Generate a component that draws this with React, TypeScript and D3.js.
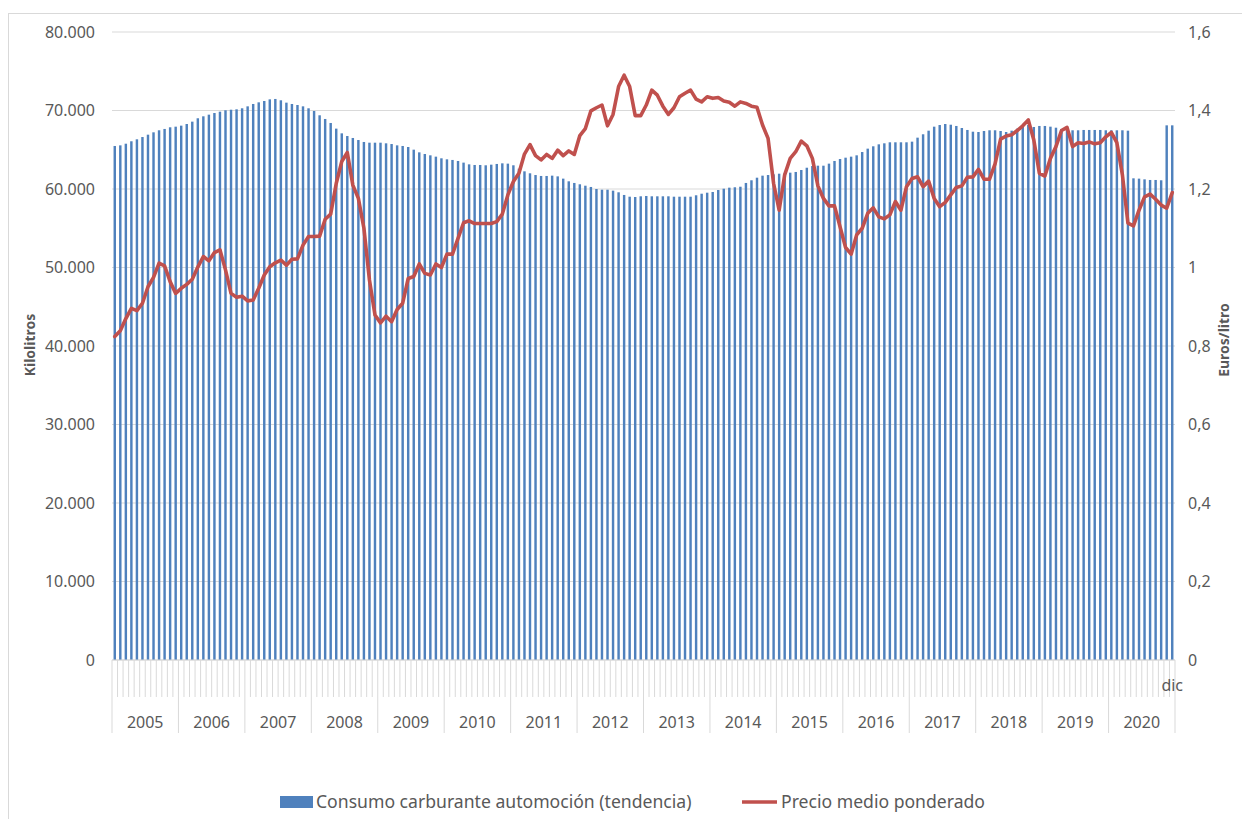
import * as d3 from "d3"

// Monthly series, Jan 2005 .. Dec 2020
const years = ["2005", "2006", "2007", "2008", "2009", "2010", "2011", "2012", "2013", "2014", "2015", "2016", "2017", "2018", "2019", "2020"]
const monthNames = ["ene", "feb", "mar", "abr", "may", "jun", "jul", "ago", "sep", "oct", "nov", "dic"]

// Consumo carburante automoción (tendencia), kilolitros
const consumo2005 = [65480, 65560, 65770, 66080, 66330, 66620, 66920, 67220, 67480, 67650, 67860, 67940]
const consumo2006 = [68070, 68280, 68580, 69010, 69260, 69470, 69680, 69850, 70030, 70100, 70150, 70280]
const consumo2007 = [70530, 70830, 71040, 71210, 71420, 71470, 71300, 71000, 70830, 70700, 70530, 70280]
const consumo2008 = [69940, 69390, 68920, 68410, 67690, 67090, 66750, 66500, 66240, 65990, 65900, 65900]
const consumo2009 = [65900, 65820, 65730, 65560, 65480, 65350, 65010, 64670, 64460, 64290, 64120, 63910]
const consumo2010 = [63780, 63700, 63570, 63360, 63140, 63060, 63060, 63020, 63100, 63190, 63270, 63230]
const consumo2011 = [63020, 62590, 62250, 62000, 61780, 61660, 61660, 61700, 61610, 61320, 60980, 60770]
const consumo2012 = [60600, 60420, 60260, 60000, 59910, 59910, 59790, 59580, 59240, 59020, 58980, 59070]
const consumo2013 = [59110, 59070, 59070, 59070, 59070, 59020, 59020, 59020, 59020, 59200, 59400, 59530]
const consumo2014 = [59620, 59870, 60040, 60170, 60220, 60290, 60770, 61110, 61440, 61700, 61780, 61870]
const consumo2015 = [61950, 62000, 62080, 62170, 62420, 62710, 62930, 62970, 62970, 63230, 63570, 63820]
const consumo2016 = [63990, 64120, 64290, 64710, 65140, 65440, 65690, 65820, 65950, 65950, 65950, 65950]
const consumo2017 = [66030, 66540, 66970, 67430, 67940, 68150, 68280, 68190, 68030, 67770, 67520, 67300]
const consumo2018 = [67260, 67390, 67480, 67480, 67390, 67260, 67430, 67690, 67940, 68150, 67900, 68030]
const consumo2019 = [68030, 67940, 67810, 67650, 67480, 67480, 67480, 67520, 67520, 67520, 67520, 67480]
const consumo2020 = [67480, 67480, 67480, 67430, 61360, 61320, 61230, 61150, 61150, 61110, 68110, 68110]

// Precio medio ponderado, euros/litro
const precio2005 = [0.824, 0.839, 0.87, 0.896, 0.89, 0.909, 0.951, 0.975, 1.011, 1.004, 0.964, 0.934]
const precio2006 = [0.947, 0.957, 0.97, 1.001, 1.028, 1.017, 1.038, 1.045, 0.994, 0.934, 0.924, 0.927]
const precio2007 = [0.915, 0.917, 0.947, 0.981, 1.002, 1.012, 1.019, 1.006, 1.021, 1.022, 1.057, 1.079]
const precio2008 = [1.079, 1.08, 1.123, 1.136, 1.214, 1.27, 1.293, 1.21, 1.176, 1.1, 0.968, 0.879]
const precio2009 = [0.859, 0.876, 0.862, 0.893, 0.909, 0.972, 0.977, 1.009, 0.985, 0.981, 1.009, 1.0]
const precio2010 = [1.034, 1.034, 1.074, 1.114, 1.119, 1.112, 1.112, 1.112, 1.112, 1.117, 1.136, 1.185]
const precio2011 = [1.219, 1.24, 1.289, 1.313, 1.285, 1.274, 1.288, 1.278, 1.299, 1.285, 1.297, 1.288]
const precio2012 = [1.336, 1.354, 1.399, 1.407, 1.414, 1.361, 1.39, 1.461, 1.49, 1.461, 1.387, 1.387]
const precio2013 = [1.414, 1.452, 1.439, 1.411, 1.39, 1.407, 1.435, 1.444, 1.452, 1.429, 1.422, 1.435]
const precio2014 = [1.431, 1.433, 1.424, 1.421, 1.411, 1.422, 1.418, 1.411, 1.408, 1.363, 1.329, 1.214]
const precio2015 = [1.146, 1.236, 1.278, 1.295, 1.322, 1.31, 1.278, 1.208, 1.176, 1.157, 1.157, 1.104]
const precio2016 = [1.051, 1.034, 1.083, 1.1, 1.138, 1.152, 1.129, 1.124, 1.134, 1.168, 1.146, 1.206]
const precio2017 = [1.227, 1.231, 1.206, 1.22, 1.176, 1.155, 1.166, 1.185, 1.204, 1.208, 1.23, 1.231]
const precio2018 = [1.25, 1.225, 1.225, 1.264, 1.327, 1.335, 1.338, 1.349, 1.361, 1.376, 1.325, 1.24]
const precio2019 = [1.233, 1.278, 1.308, 1.349, 1.357, 1.308, 1.318, 1.316, 1.32, 1.315, 1.318, 1.333]
const precio2020 = [1.344, 1.318, 1.236, 1.113, 1.106, 1.146, 1.18, 1.187, 1.174, 1.159, 1.151, 1.191]

const leftTicks = [0, 10000, 20000, 30000, 40000, 50000, 60000, 70000, 80000]
const rightTicks = [0, 0.2, 0.4, 0.6, 0.8, 1, 1.2, 1.4, 1.6]

const consumo = [consumo2005, consumo2006, consumo2007, consumo2008, consumo2009, consumo2010, consumo2011, consumo2012,
  consumo2013, consumo2014, consumo2015, consumo2016, consumo2017, consumo2018, consumo2019, consumo2020].flat()
const precio = [precio2005, precio2006, precio2007, precio2008, precio2009, precio2010, precio2011, precio2012,
  precio2013, precio2014, precio2015, precio2016, precio2017, precio2018, precio2019, precio2020].flat()
const months = years.flatMap((y) => monthNames.map((m) => `${m} ${y}`))

const FONT = "'Noto Sans', sans-serif"
const TEXT = "#595959"
const GRID = "#d9d9d9"
const BLUE = "#4f81bd"
const RED = "#c0504d"

export default function App() {
  const width = 1242
  const height = 819
  const left = 112
  const right = 1175
  const top = 32
  const bottom = 660

  const x = d3.scaleBand<string>().domain(months).range([left, right]).paddingInner(0.56).paddingOuter(0.28)
  const step = x.step()
  const yL = d3.scaleLinear().domain([0, 80000]).range([bottom, top])
  const yR = d3.scaleLinear().domain([0, 1.6]).range([bottom, top])

  const fmtL = (v: number) => d3.format(",")(v).replace(/,/g, ".")
  const fmtR = (v: number) => String(+v.toFixed(1)).replace(".", ",")

  const line = d3
    .line<number>()
    .x((_, i) => (x(months[i]) as number) + x.bandwidth() / 2)
    .y((d) => yR(d))

  const boundaries = d3.range(months.length + 1)

  return (
    <svg width={width} height={height} style={{ position: "fixed", left: 0, top: 0, background: "#fff" }} fontFamily={FONT}>
      <rect x={8.5} y={13.5} width={1260} height={830} fill="#fff" stroke={GRID} />

      {/* gridlines */}
      {leftTicks.map((t) => (
        <line key={t} x1={left} x2={right} y1={yL(t)} y2={yL(t)} stroke={GRID} strokeWidth={1} />
      ))}

      {/* bars */}
      {consumo.map((v, i) => (
        <rect key={i} x={x(months[i])} y={yL(v)} width={x.bandwidth()} height={bottom - yL(v)} fill={BLUE} />
      ))}

      {/* category axis ticks */}
      {boundaries.map((i) => {
        const bx = left + i * step
        const major = i % 12 === 0
        return <line key={i} x1={bx} x2={bx} y1={bottom} y2={major ? 733 : 697} stroke={GRID} strokeWidth={1} />
      })}
      <line x1={left} x2={right} y1={bottom} y2={bottom} stroke={GRID} />

      {/* price line */}
      <path d={line(precio) || ""} fill="none" stroke={RED} strokeWidth={3.6} strokeLinejoin="round" strokeLinecap="round" />

      {/* left axis labels */}
      {leftTicks.map((t) => (
        <text key={t} x={95} y={yL(t)} dy="0.35em" textAnchor="end" fontSize={16} fill={TEXT}>
          {fmtL(t)}
        </text>
      ))}
      {/* right axis labels */}
      {rightTicks.map((t) => (
        <text key={t} x={1188} y={yR(t)} dy="0.35em" textAnchor="start" fontSize={16} fill={TEXT}>
          {fmtR(t)}
        </text>
      ))}

      {/* year labels */}
      {years.map((y, k) => (
        <text key={y} x={left + (k * 12 + 6) * step} y={722} dy="0.35em" textAnchor="middle" fontSize={16} fill={TEXT}>
          {y}
        </text>
      ))}
      <text x={(x(months[months.length - 1]) as number) + x.bandwidth() / 2} y={685} dy="0.35em" textAnchor="middle" fontSize={16} fill={TEXT}>
        {monthNames[11]}
      </text>

      {/* axis titles */}
      <text transform={`translate(30, 345) rotate(-90)`} textAnchor="middle" dy="0.35em" fontSize={14} fontWeight="bold" fill={TEXT}>
        Kilolitros
      </text>
      <text transform={`translate(1224, 340) rotate(-90)`} textAnchor="middle" dy="0.35em" fontSize={14} fontWeight="bold" fill={TEXT}>
        Euros/litro
      </text>

      {/* legend */}
      <rect x={280} y={796} width={33} height={12} fill={BLUE} />
      <text x={316} y={802} dy="0.35em" fontSize={17.6} fill={TEXT}>
        Consumo carburante automoción (tendencia)
      </text>
      <line x1={742} x2={777} y1={802} y2={802} stroke={RED} strokeWidth={3.6} />
      <text x={781} y={802} dy="0.35em" fontSize={17.6} fill={TEXT}>
        Precio medio ponderado
      </text>
    </svg>
  )
}
